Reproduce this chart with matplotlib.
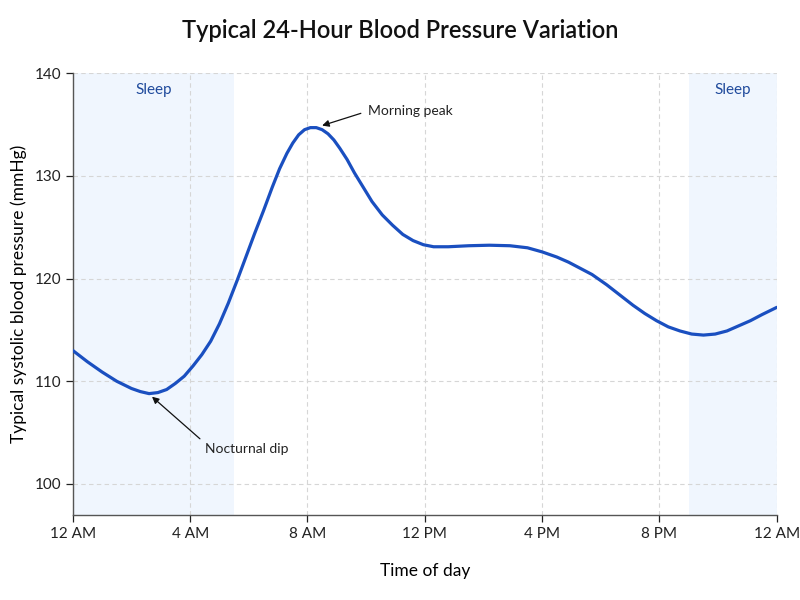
import matplotlib
matplotlib.use('Agg')
import matplotlib.pyplot as plt

plt.rcParams['font.family'] = ['Lato', 'DejaVu Sans']

# hours after midnight and systolic pressure
hours = [0.0, 0.5, 1.0, 1.5, 2.0, 2.3, 2.6, 2.9, 3.2, 3.5, 3.8, 4.1, 4.4, 4.7,
         5.0, 5.3, 5.6, 5.9, 6.2, 6.5, 6.8, 7.05, 7.3, 7.5, 7.7, 7.9, 8.1, 8.3,
         8.5, 8.7, 8.9, 9.1, 9.35, 9.6, 9.9, 10.2, 10.55, 10.9, 11.25, 11.6,
         11.95, 12.3, 12.8, 13.5, 14.2, 14.9, 15.5, 16.0, 16.5, 16.9, 17.3,
         17.7, 18.2, 18.65, 19.1, 19.5, 19.9, 20.3, 20.7, 21.1, 21.5, 21.9,
         22.3, 22.7, 23.1, 23.5, 24.0]
systolic = [113.0, 111.9, 110.9, 110.0, 109.3, 109.0, 108.8, 108.9, 109.2, 109.8,
            110.5, 111.5, 112.6, 113.9, 115.6, 117.6, 119.8, 122.1, 124.4, 126.6,
            128.9, 130.7, 132.2, 133.2, 134.0, 134.5, 134.7, 134.7, 134.5, 134.1,
            133.5, 132.7, 131.6, 130.3, 128.9, 127.5, 126.2, 125.2, 124.3, 123.7,
            123.3, 123.1, 123.1, 123.2, 123.25, 123.2, 123.0, 122.6, 122.1, 121.6,
            121.0, 120.4, 119.4, 118.4, 117.4, 116.6, 115.9, 115.3, 114.9, 114.6,
            114.5, 114.6, 114.9, 115.4, 115.9, 116.5, 117.2]

sleep_spans = [(0, 5.5), (21, 24)]
tick_hours = [0, 4, 8, 12, 16, 20, 24]
tick_labels = ['12 AM', '4 AM', '8 AM', '12 PM', '4 PM', '8 PM', '12 AM']
y_ticks = [100, 110, 120, 130, 140]

fig = plt.figure(figsize=(8, 6), dpi=100)
ax = fig.add_axes([0.091, 0.142, 0.88, 0.736])

for a, b in sleep_spans:
    ax.axvspan(a, b, color='#f0f6fe', zorder=0, lw=0)
    ax.text((a + b) / 2, 138.4, 'Sleep', ha='center', va='center',
            fontsize=11, color='#1f4a9c')

ax.plot(hours, systolic, color='#1a4fc0', lw=2.3, solid_joinstyle='round',
        solid_capstyle='round', zorder=3)

ax.annotate('Morning peak', xy=(8.5, 134.9), xytext=(10.05, 136.3),
            ha='left', va='center', fontsize=10, color='#222222',
            arrowprops=dict(arrowstyle='-|>', color='#111111', lw=0.9,
                            relpos=(0, 0.5), shrinkA=3, shrinkB=0,
                            mutation_scale=10))
ax.annotate('Nocturnal dip', xy=(2.7, 108.5), xytext=(4.5, 103.4),
            ha='left', va='center', fontsize=10, color='#222222',
            arrowprops=dict(arrowstyle='-|>', color='#111111', lw=0.9,
                            relpos=(0, 1), shrinkA=2, shrinkB=0,
                            mutation_scale=10))

ax.set_xlim(0, 24)
ax.set_ylim(97, 140)
ax.set_xticks(tick_hours)
ax.set_xticklabels(tick_labels)
ax.set_yticks(y_ticks)
ax.tick_params(labelsize=11, colors='#222222', length=5, width=0.9)
ax.grid(True, ls=(0, (4, 3)), color='#d6d6d6', lw=0.8)
ax.set_axisbelow(True)
for s in ['top', 'right']:
    ax.spines[s].set_visible(False)
for s in ['left', 'bottom']:
    ax.spines[s].set_color('#555555')
    ax.spines[s].set_linewidth(1.0)

ax.set_xlabel('Time of day', fontsize=12.5, labelpad=16)
ax.set_ylabel('Typical systolic blood pressure (mmHg)', fontsize=12.5, labelpad=5)
fig.suptitle('Typical 24-Hour Blood Pressure Variation', y=0.95, va='center',
             fontsize=17, fontweight='semibold', color='#111111')

fig.savefig('out.png', dpi=100)
